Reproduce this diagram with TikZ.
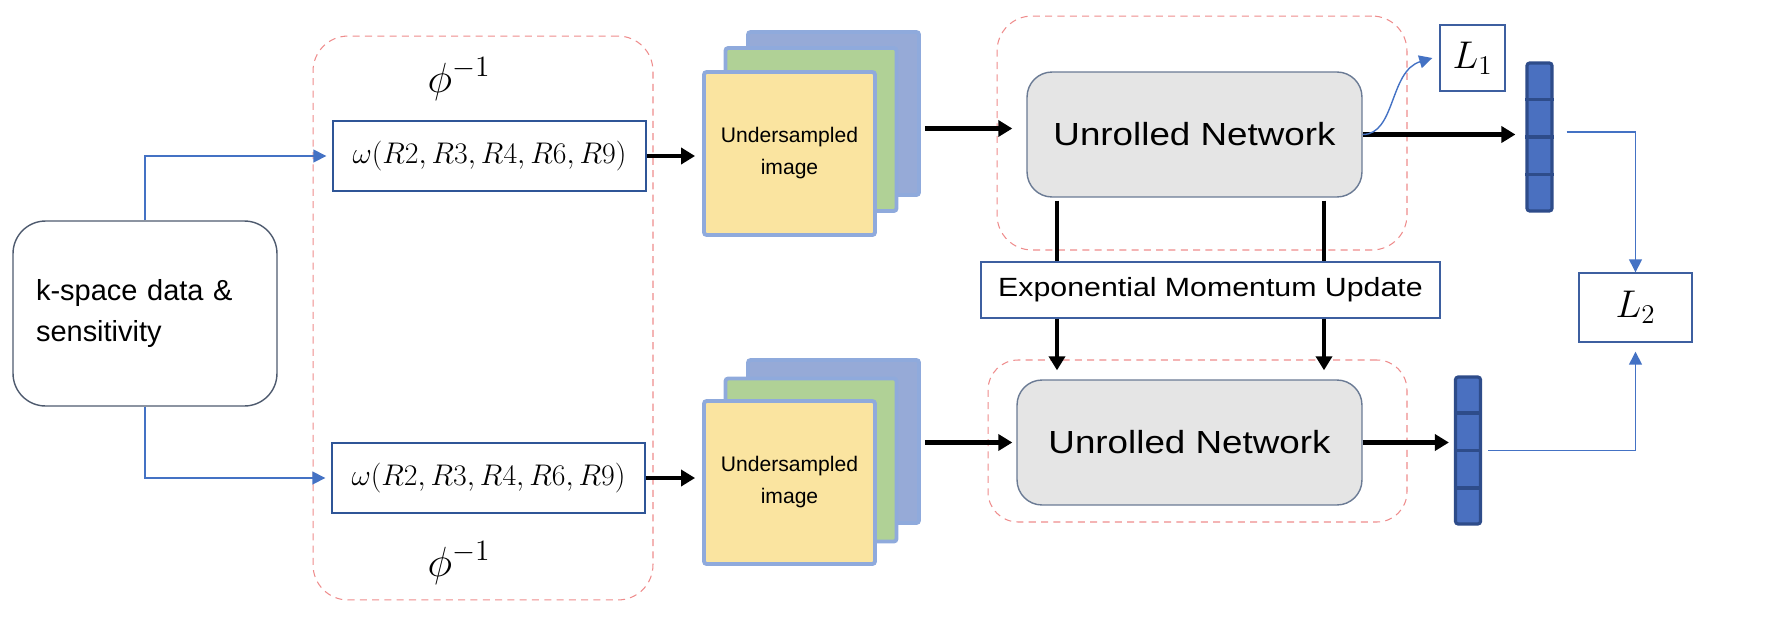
\RequirePackage{fix-cm}
\documentclass[tikz,border=0pt]{standalone}
\usepackage[no-math]{fontspec}
\setmainfont{Liberation Sans}
\newfontfamily\stretchfont[FakeStretch=1.15]{Liberation Sans}
\usetikzlibrary{arrows.meta,calc}
\definecolor{dashred}{RGB}{238,140,140}
\definecolor{kbord}{RGB}{78,90,110}
\definecolor{ombord}{RGB}{47,85,151}
\definecolor{blueln}{RGB}{68,114,196}
\definecolor{sheetbord}{RGB}{143,170,220}
\definecolor{sheetblue}{RGB}{150,170,215}
\definecolor{sheetgreen}{RGB}{176,209,150}
\definecolor{sheetyellow}{RGB}{250,228,160}
\definecolor{ungray}{RGB}{229,229,229}
\definecolor{unbord}{RGB}{106,122,148}
\definecolor{emubord}{RGB}{61,95,160}
\definecolor{vecfill}{RGB}{74,112,192}
\definecolor{vecbord}{RGB}{46,76,138}
\tikzset{
  grp/.style={draw=dashred, dash pattern=on 4pt off 3pt, line width=0.6pt, rounded corners=0.7cm, inner sep=0pt},
  kbox/.style={draw=kbord, line width=0.8pt, rounded corners=0.65cm, minimum width=5.28cm, minimum height=3.7cm,
     align=left, text width=4.36cm, inner xsep=0.46cm, font=\fontsize{16.5}{22.8}\selectfont},
  ombox/.style={draw=ombord, line width=0.8pt, fill=white, minimum width=6.26cm, minimum height=1.4cm, inner sep=0pt,
     font=\fontsize{17}{20}\selectfont},
  sheet/.style={draw=sheetbord, line width=2.2pt, rounded corners=1.5pt, minimum width=3.42cm, minimum height=3.26cm, inner sep=0pt},
  sheettext/.style={sheet, fill=sheetyellow, align=center, font=\fontsize{12}{18.2}\selectfont},
  unbox/.style={draw=unbord, fill=ungray, line width=0.8pt, rounded corners=0.5cm, minimum height=2.5cm, inner sep=0pt,
     font=\stretchfont\fontsize{18.2}{22}\selectfont},
  emubox/.style={draw=emubord, fill=white, line width=0.8pt, minimum width=9.18cm, minimum height=1.12cm, inner sep=0pt,
     font=\stretchfont\fontsize{15}{18}\selectfont},
  lbox/.style={draw=emubord, fill=white, line width=0.8pt, inner sep=0pt, font=\fontsize{22}{26}\selectfont},
  phitxt/.style={inner sep=0pt, font=\fontsize{24}{28}\selectfont},
  vec/.style={draw=vecbord, fill=vecfill, line width=1.8pt, rounded corners=1.5pt, minimum width=0.5cm, inner sep=0pt},
  vecline/.style={draw=vecbord, line width=1.8pt},
  bluearrow/.style={draw=blueln, line width=0.8pt, -{Triangle[length=0.26cm,width=0.26cm]}},
  blueline/.style={draw=blueln, line width=0.8pt},
  thickarrow/.style={draw=black, line width=2.3pt, -{Triangle[length=0.28cm,width=0.32cm]}},
  thickline/.style={draw=black, line width=2.3pt},
}
\begin{document}
\begin{tikzpicture}[x=0.02cm,y=-0.02cm]
\useasboundingbox (0,0) rectangle (1782,616);
% dashed groups
\node[grp, minimum width=6.8cm, minimum height=11.28cm] (g1) at (483,318) {};
\node[grp, minimum width=8.2cm, minimum height=4.68cm] (g2) at (1202,133) {};
\node[grp, minimum width=8.38cm, minimum height=3.24cm, rounded corners=0.6cm] (g3) at (1197.5,441) {};
% left box
\node[kbox] (ks) at (145,313.5) {k-space data \&\\sensitivity};
% phi labels
\node[phitxt] (phitop) at (459,79) {$\phi^{-1}$};
\node[phitxt] (phibot) at (459,563) {$\phi^{-1}$};
% omega boxes
\node[ombox] (om1) at (489.5,156) {$\omega(R2,R3,R4,R6,R9)$};
\node[ombox] (om2) at (488.5,478) {$\omega(R2,R3,R4,R6,R9)$};
% image stacks
\node[sheet, fill=sheetblue] (im1b) at (833.5,113.5) {};
\node[sheet, fill=sheetgreen] (im1g) at (811,129.5) {};
\node[sheettext] (im1f) at (789.5,153.5) {Undersampled\\image};
\node[sheet, fill=sheetblue] (im2b) at (833.5,441.5) {};
\node[sheet, fill=sheetgreen] (im2g) at (811,460) {};
\node[sheettext] (im2f) at (789.5,482.5) {Undersampled\\image};
% unrolled networks
\node[unbox, minimum width=6.7cm] (un1) at (1194.5,134.5) {Unrolled Network};
\node[unbox, minimum width=6.9cm] (un2) at (1189.5,442.5) {Unrolled Network};
% EMU
\node[emubox] (emu) at (1210.5,290) {Exponential Momentum Update};
% losses
\node[lbox, minimum width=1.3cm, minimum height=1.32cm] (L1) at (1472.5,58) {$L_1$};
\node[lbox, minimum width=2.26cm, minimum height=1.38cm] (L2) at (1635.5,307.5) {$L_2$};
% vectors
\node[vec, minimum height=2.96cm] (v1) at (1539.5,137) {};
\node[vec, minimum height=2.94cm] (v2) at (1468,450.5) {};
\foreach \v in {v1,v2}{
  \foreach \f in {0.25,0.5,0.75}{
    \draw[vecline] ($(\v.north west)!\f!(\v.south west)$) -- ($(\v.north east)!\f!(\v.south east)$);
  }
}
% coordinates for vertical connectors
\coordinate (xa) at (1057,0);
\coordinate (xb) at (1324,0);
% blue connectors from k-space
\draw[bluearrow, shorten >=0.12cm] (ks.north) |- (om1.west);
\draw[bluearrow, shorten >=0.12cm] (ks.south) |- (om2.west);
% thick arrows
\draw[thickarrow, shorten >=0.14cm] (om1.east) -- (om1.east -| im1f.west);
\draw[thickarrow, shorten >=0.14cm] (om2.east) -- (om2.east -| im2f.west);
\draw[thickarrow, shorten <=0.08cm, shorten >=0.28cm] ($(un1.west -| im1b.east)+(0,-6)$) -- ($(un1.west)+(0,-6)$);
\draw[thickarrow, shorten <=0.08cm, shorten >=0.08cm] (un2.west -| im2b.east) -- (un2.west);
\draw[thickarrow, shorten >=0.2cm] (un1.east) -- (un1.east -| v1.west);
\draw[thickarrow, shorten >=0.1cm] (un2.east) -- (un2.east -| v2.west);
% EMU connectors
\draw[thickline, shorten <=0.06cm] (un1.south -| xa) -- (emu.north -| xa);
\draw[thickline, shorten <=0.06cm] (un1.south -| xb) -- (emu.north -| xb);
\draw[thickarrow, shorten >=0.18cm] (emu.south -| xa) -- (un2.north -| xa);
\draw[thickarrow, shorten >=0.18cm] (emu.south -| xb) -- (un2.north -| xb);
% L1 curve
\draw[bluearrow] (un1.east) .. controls +(33,0) and +(-43,13) .. ([xshift=-0.14cm]L1.west);
% to L2
\draw[bluearrow] ($(v1.east)+(13,-5)$) -| (L2.north);
\draw[bluearrow, shorten >=0.18cm] ($(v2.east)+(6,0)$) -| (L2.south);
\end{tikzpicture}
\end{document}
